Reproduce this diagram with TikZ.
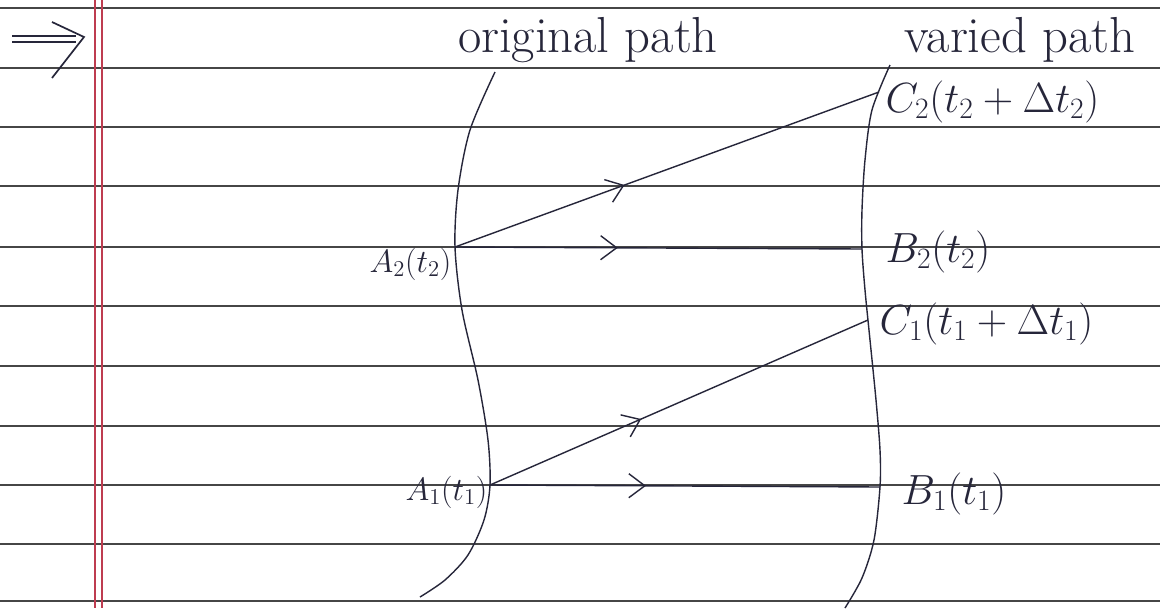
\documentclass[tikz,border=0pt]{standalone}
\usepackage{fix-cm}
\usetikzlibrary{arrows.meta,decorations.markings}
\definecolor{ink}{RGB}{38,38,58}
\definecolor{rule}{RGB}{70,70,70}
\definecolor{margin}{RGB}{190,60,80}
\tikzset{ruled/.style={rule,line width=1.1pt},
  pathline/.style={ink,line width=1pt},
  midarrow/.style={ink,line width=1pt,postaction={decorate},
    decoration={markings,mark=at position .4 with {\arrow{Straight Barb[length=4mm,width=6mm]}}}},
  pathlabel/.style={ink,font=\fontsize{36}{40}\selectfont},
  ptlabel/.style={ink,inner sep=1pt,font=\fontsize{30}{34}\selectfont},
  ptsmall/.style={ink,inner sep=1pt,font=\fontsize{23}{26}\selectfont}}

\begin{document}
\begin{tikzpicture}[x=0.025cm,y=-0.025cm]
\useasboundingbox (0,0) rectangle (1160,608);
\fill[white] (0,0) rectangle (1160,608);
% ruled paper
\foreach \yy in {8,68,127,186,247,306,366,426,485,544,601}
  \draw[ruled] (0,\yy) -- (1160,\yy);
\draw[margin,line width=1pt] (95,0) -- (95,608);
\draw[margin,line width=1pt] (102,0) -- (102,608);
% implies sign
\draw[ink,line width=1.2pt] (12,36) -- (76,36);
\draw[ink,line width=1.2pt] (12,42) -- (76,42);
\draw[ink,line width=1.2pt] (52,22) -- (84,37) -- (52,78);
% headings
\node[pathlabel] (orig) at (588,40) {original path};
\node[pathlabel] (varied) at (1020,40) {varied path};
% the two paths
\draw[pathline] plot[smooth] coordinates {(495,72) (470,130) (458,190) (455,247) (462,310) (478,380) (488,440) (490,485) (484,520) (468,555) (445,580) (420,597)};
\draw[pathline] plot[smooth] coordinates {(890,65) (872,110) (865,160) (862,210) (862,249) (865,290) (870,340) (876,400) (880,450) (880,487) (874,540) (862,578) (845,608)};
% end points
\coordinate (A2) at (455,247);
\coordinate (B2) at (862,249);
\coordinate (C2) at (879,92);
\coordinate (A1) at (490,485);
\coordinate (B1) at (880,487);
\coordinate (C1) at (868,320);
\node[ptsmall,anchor=east] (a2lab) at (453,264) {$A_2(t_2)$};
\node[ptsmall,anchor=east] (a1lab) at (489,492) {$A_1(t_1)$};
\node[ptlabel,anchor=west] (c2lab) at (884,102) {$C_2(t_2+\Delta t_2)$};
\node[ptlabel,anchor=west] (b2lab) at (884,252) {$B_2(t_2)$};
\node[ptlabel,anchor=west] (c1lab) at (878,324) {$C_1(t_1+\Delta t_1)$};
\node[ptlabel,anchor=west] (b1lab) at (900,494) {$B_1(t_1)$};
\draw[midarrow] (A2) -- (C2);
\draw[midarrow] (A2) -- (B2);
\draw[midarrow] (A1) -- (C1);
\draw[midarrow] (A1) -- (B1);
\end{tikzpicture}
\end{document}
